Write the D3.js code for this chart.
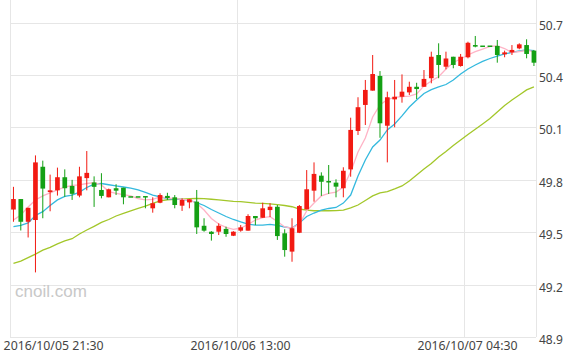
<!DOCTYPE html>
<html><head><meta charset="utf-8">
<script src="https://cdn.jsdelivr.net/npm/d3@7/dist/d3.min.js"></script>
<style>body{margin:0;background:#fff}svg{display:block}</style>
</head><body>
<svg id="c" width="571" height="360"></svg>
<script>
const opens  = [49.63,49.69,49.56,49.57,49.875,49.73,49.74,49.815,49.765,49.71,49.81,49.785,49.742,49.70,49.752,49.755,49.702,49.702,49.703,49.637,49.669,49.708,49.70,49.652,49.671,49.675,49.537,49.503,49.503,49.519,49.48,49.509,49.509,49.593,49.583,49.627,49.646,49.494,49.389,49.497,49.631,49.738,49.824,49.789,49.784,49.752,49.86,50.08,50.229,50.311,50.395,50.11,50.261,50.276,50.301,50.333,50.333,50.382,50.515,50.448,50.505,50.452,50.502,50.572,50.565,50.565,50.567,50.519,50.53,50.553,50.572,50.54];
const closes = [49.69,49.56,49.64,49.90,49.75,49.74,49.815,49.752,49.72,49.82,49.84,49.76,49.708,49.746,49.738,49.70,49.702,49.702,49.696,49.666,49.713,49.696,49.656,49.685,49.689,49.528,49.509,49.49,49.537,49.49,49.503,49.528,49.593,49.58,49.637,49.646,49.478,49.398,49.523,49.65,49.746,49.834,49.789,49.789,49.761,49.852,50.086,50.216,50.315,50.406,50.124,50.273,50.276,50.305,50.333,50.32,50.378,50.505,50.458,50.495,50.458,50.505,50.585,50.563,50.565,50.565,50.515,50.53,50.544,50.576,50.521,50.471];
const highs  = [49.76,49.69,49.64,49.94,49.91,49.83,49.87,49.86,49.80,49.875,49.965,49.82,49.838,49.75,49.775,49.755,49.702,49.702,49.703,49.70,49.723,49.726,49.713,49.694,49.689,49.742,49.58,49.506,49.551,49.532,49.506,49.541,49.603,49.593,49.669,49.666,49.656,49.517,49.58,49.656,49.856,49.90,49.843,49.885,49.803,49.872,50.156,50.273,50.372,50.515,50.423,50.305,50.372,50.404,50.362,50.356,50.429,50.534,50.582,50.534,50.505,50.521,50.591,50.624,50.565,50.565,50.601,50.54,50.572,50.582,50.605,50.544];
const lows   = [49.56,49.51,49.47,49.27,49.58,49.62,49.71,49.703,49.685,49.70,49.74,49.645,49.694,49.70,49.713,49.66,49.702,49.702,49.637,49.612,49.666,49.685,49.637,49.622,49.637,49.49,49.503,49.452,49.484,49.474,49.478,49.503,49.509,49.541,49.583,49.587,49.456,49.36,49.331,49.495,49.631,49.675,49.708,49.719,49.70,49.70,49.818,50.057,50.114,50.311,50.041,49.90,50.101,50.242,50.286,50.263,50.333,50.353,50.382,50.433,50.439,50.448,50.496,50.559,50.565,50.565,50.471,50.502,50.515,50.548,50.496,50.452];
const ma5  = [49.570,49.599,49.645,49.685,49.708,49.725,49.742,49.759,49.768,49.771,49.779,49.784,49.771,49.733,49.723,49.716,49.708,49.693,49.685,49.688,49.702,49.696,49.693,49.688,49.685,49.666,49.627,49.579,49.547,49.528,49.516,49.524,49.544,49.570,49.584,49.589,49.561,49.530,49.524,49.547,49.622,49.667,49.708,49.723,49.730,49.759,49.845,49.960,50.040,50.160,50.229,50.260,50.272,50.277,50.280,50.292,50.338,50.366,50.391,50.435,50.472,50.492,50.515,50.534,50.549,50.564,50.567,50.552,50.529,50.535,50.542,50.534];
const ma10 = [49.532,49.539,49.553,49.596,49.618,49.653,49.685,49.705,49.713,49.730,49.756,49.776,49.779,49.772,49.765,49.759,49.753,49.742,49.728,49.713,49.702,49.693,49.689,49.688,49.682,49.670,49.653,49.630,49.610,49.590,49.573,49.559,49.547,49.541,49.541,49.545,49.539,49.530,49.524,49.553,49.590,49.610,49.627,49.636,49.642,49.667,49.713,49.822,49.914,49.988,50.028,50.086,50.120,50.166,50.217,50.257,50.295,50.317,50.332,50.346,50.372,50.406,50.435,50.458,50.478,50.495,50.509,50.521,50.530,50.538,50.544,50.540];
const ma30 = [49.322,49.335,49.355,49.375,49.397,49.413,49.433,49.450,49.463,49.490,49.513,49.534,49.556,49.573,49.593,49.608,49.622,49.636,49.650,49.665,49.679,49.686,49.689,49.690,49.693,49.694,49.693,49.689,49.685,49.681,49.677,49.675,49.671,49.667,49.665,49.662,49.658,49.653,49.646,49.633,49.627,49.623,49.623,49.623,49.624,49.627,49.639,49.656,49.682,49.708,49.725,49.733,49.748,49.765,49.793,49.828,49.862,49.894,49.931,49.962,49.997,50.028,50.060,50.090,50.120,50.151,50.189,50.226,50.257,50.286,50.315,50.332];
const yTicks = [48.9,49.2,49.5,49.8,50.1,50.4,50.7];
const xTickLabels = ["2016/10/05 21:30","2016/10/06 13:00","2016/10/07 04:30"];
const xTickTimes = ["2016-10-05T21:30","2016-10-06T13:00","2016-10-07T04:30"];

const plotL = 10, plotR = 536, plotT = 22.7, plotB = 337;
const svg = d3.select("#c");
const parse = d3.timeParse("%Y-%m-%dT%H:%M");
const times = xTickTimes.map(parse);

const y = d3.scaleLinear().domain([48.9, 50.7]).range([plotB, plotT]);
const x = d3.scaleBand().domain(d3.range(opens.length)).range([9.8, 537.6]).paddingInner(0.36).paddingOuter(0.18);
const xt = d3.scaleTime().domain([times[0], times[2]]).range([plotL, 464]);
const cx = i => x(i) + x.bandwidth() / 2;

const grid = svg.append("g");
grid.selectAll("line.h").data(yTicks).join("line")
  .attr("x1", plotL).attr("x2", plotR)
  .attr("y1", d => Math.round(y(d)) + 0.5).attr("y2", d => Math.round(y(d)) + 0.5)
  .attr("stroke", "#e6e6e6").attr("stroke-width", 1);
grid.selectAll("line.v").data(times).join("line")
  .attr("x1", d => Math.round(xt(d)) + 0.5).attr("x2", d => Math.round(xt(d)) + 0.5)
  .attr("y1", 0).attr("y2", plotB)
  .attr("stroke", "#e6e6e6").attr("stroke-width", 1);
grid.append("line").attr("x1", plotR + 0.5).attr("x2", plotR + 0.5).attr("y1", 0).attr("y2", plotB)
  .attr("stroke", "#e6e6e6");

// watermark
svg.append("text").attr("x", 15).attr("y", 297).text("cnoil.com")
  .attr("font-family", "Liberation Sans, Arial, sans-serif").attr("font-size", 17)
  .attr("fill", "#c8c8c8");

// moving averages
const line = arr => d3.line().x((d, i) => cx(i)).y(d => y(d))(arr);
[[ma30, "#a3c72a"], [ma10, "#34b9de"], [ma5, "#ffb3c6"]].forEach(([arr, c]) => {
  svg.append("path").attr("d", line(arr)).attr("fill", "none").attr("stroke", c).attr("stroke-width", 1.3);
});

// candles
const idx = d3.range(opens.length);
const up = i => closes[i] > opens[i];
const col = i => up(i) ? "#f21a12" : "#14a014";
const cg = svg.append("g");
cg.selectAll("line").data(idx).join("line")
  .attr("x1", cx).attr("x2", cx)
  .attr("y1", i => y(highs[i])).attr("y2", i => y(lows[i]))
  .attr("stroke", col).attr("stroke-width", 1);
cg.selectAll("rect").data(idx).join("rect")
  .attr("x", i => x(i)).attr("width", x.bandwidth())
  .attr("y", i => Math.min(y(opens[i]), y(closes[i])) - (Math.abs(y(opens[i]) - y(closes[i])) < 1.5 ? 0.75 : 0))
  .attr("height", i => Math.max(1.5, Math.abs(y(opens[i]) - y(closes[i]))))
  .attr("fill", col);

// y labels
svg.append("g").selectAll("text").data(yTicks).join("text")
  .attr("x", 539).attr("y", d => y(d) + 7)
  .text(d => d3.format(".1f")(d))
  .attr("font-family", "Noto Sans, sans-serif").attr("font-size", 12).attr("fill", "#444");

// x labels
svg.append("g").selectAll("text").data(times).join("text")
  .attr("x", d => xt(d) + 3.5).attr("y", 350)
  .attr("text-anchor", "middle")
  .text((d, i) => xTickLabels[i])
  .attr("font-family", "Noto Sans, sans-serif").attr("font-size", 12.3).attr("fill", "#444")
  .each(function() {
    const b = this.getBBox();
    if (b.x < 3.6) d3.select(this).attr("x", +d3.select(this).attr("x") + (3.6 - b.x));
  });
</script>
</body></html>
